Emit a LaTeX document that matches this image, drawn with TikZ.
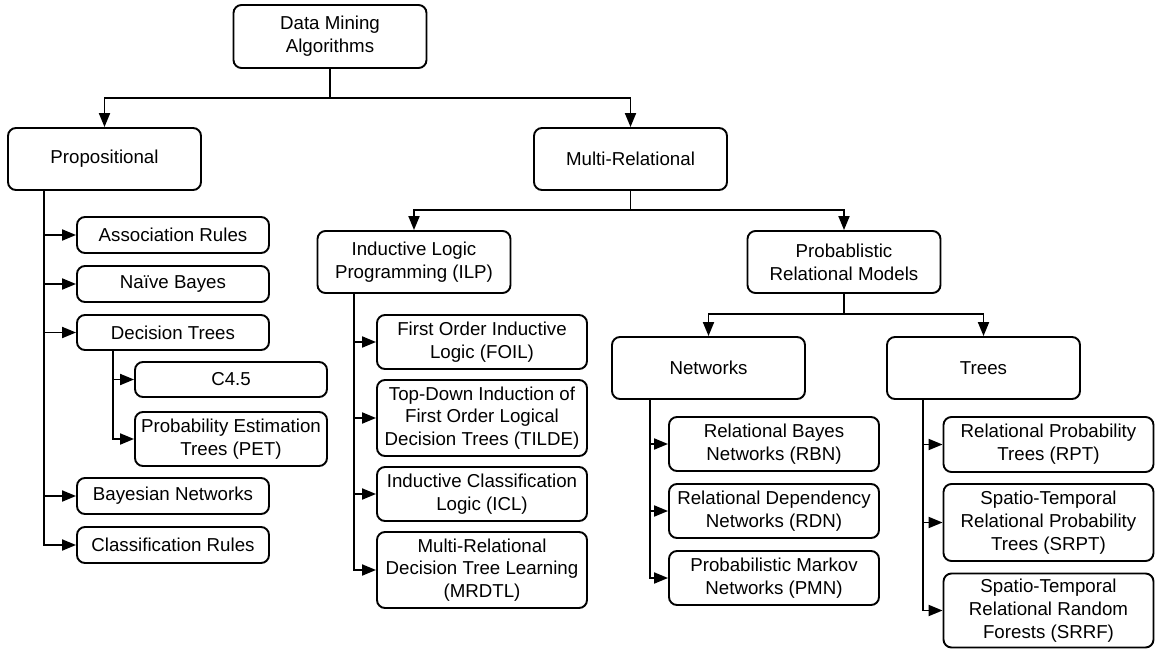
\documentclass[tikz,border=0pt]{standalone}
\usepackage{fontspec}
\setmainfont{Liberation Sans}
\usetikzlibrary{positioning, arrows.meta}

\begin{document}
\begin{tikzpicture}[x=1pt, y=-1pt, % 1 unit = 1 pixel of the page, y runs down
  box/.style={draw, line width=1.9pt, rounded corners=8pt, align=center, inner sep=0pt,
    font=\fontsize{18.7}{22.7}\selectfont},
  head/.style={box, minimum width=193pt, minimum height=62pt},
  leaf/.style={box, minimum width=192pt},
  wide/.style={box, minimum width=210pt},
  link/.style={line width=1.9pt},
  arr/.style={link, -{Triangle[length=14pt, width=11pt]}}]

\useasboundingbox (0,0) rectangle (1155,650);

\node[head, minimum height=63pt] (root) at (330,36.5) {Data Mining\\Algorithms};
\node[head] (prop) at (104.5,159) {Propositional};
\node[head] (multi) at (630.5,159) {Multi-Relational};

\node[leaf, minimum height=36pt] (assoc) at (173,235) {Association Rules};
\node[leaf, minimum height=36pt] (naive) at (173,284) {Naïve Bayes};
\node[leaf, minimum height=35pt] (dtree) at (173,332.5) {Decision Trees};
\node[leaf, minimum height=35pt] (c45) at (231,379.5) {C4.5};
\node[leaf, minimum height=54pt] (pet) at (231,439) {Probability Estimation\\Trees (PET)};
\node[leaf, minimum height=36pt] (bayes) at (173,496) {Bayesian Networks};
\node[leaf, minimum height=36pt] (crules) at (173,545) {Classification Rules};

\node[head] (ilp) at (414,262) {Inductive Logic\\Programming (ILP)};
\node[wide, minimum height=54pt] (foil) at (482,342) {First Order Inductive\\Logic (FOIL)};
\node[wide, minimum height=76pt] (tilde) at (482,418) {Top-Down Induction of\\First Order Logical\\Decision Trees (TILDE)};
\node[wide, minimum height=54pt] (icl) at (482,494) {Inductive Classification\\Logic (ICL)};
\node[wide, minimum height=76pt] (mrdtl) at (482,570) {Multi-Relational\\Decision Tree Learning\\(MRDTL)};

\node[head] (prm) at (844,262) {Probablistic\\Relational Models};
\node[head] (netw) at (708.5,368) {Networks};
\node[head] (trees) at (983.5,368) {Trees};

\node[wide, minimum height=54pt] (rbn) at (774,444) {Relational Bayes\\Networks (RBN)};
\node[wide, minimum height=54pt] (rdn) at (774,511) {Relational Dependency\\Networks (RDN)};
\node[wide, minimum height=54pt] (pmn) at (774,578) {Probabilistic Markov\\Networks (PMN)};

\node[wide, minimum height=55pt] (rpt) at (1048.5,444.5) {Relational Probability\\Trees (RPT)};
\node[wide, minimum height=77pt] (srpt) at (1048.5,522.5) {Spatio-Temporal\\Relational Probability\\Trees (SRPT)};
\node[wide, minimum height=74pt] (srrf) at (1048.5,610.5) {Spatio-Temporal\\Relational Random\\Forests (SRRF)};

% forks
\coordinate (rootfork) at (330,98);
\coordinate (multifork) at (630.5,210);
\coordinate (prmfork) at (844,314);
\coordinate (propv) at (44,190);
\coordinate (dtreev) at (113,350);
\coordinate (ilpv) at (354,293);
\coordinate (netwv) at (650,399);
\coordinate (treesv) at (923,399);

\draw[link] (root.south) -- (rootfork);
\draw[arr] (rootfork) -| (prop.north);
\draw[arr] (rootfork) -| (multi.north);
\draw[link] (multi.south) -- (multifork);
\draw[arr] (multifork) -| (ilp.north);
\draw[arr] (multifork) -| (prm.north);
\draw[link] (prm.south) -- (prmfork);
\draw[arr] (prmfork) -| (netw.north);
\draw[arr] (prmfork) -| (trees.north);

\foreach \n in {assoc, naive, dtree, bayes, crules}
  \draw[arr] (propv) |- (\n.west);
\foreach \n in {c45, pet}
  \draw[arr] (dtreev) |- (\n.west);
\foreach \n in {foil, tilde, icl, mrdtl}
  \draw[arr] (ilpv) |- (\n.west);
\foreach \n in {rbn, rdn, pmn}
  \draw[arr] (netwv) |- (\n.west);
\foreach \n in {rpt, srpt, srrf}
  \draw[arr] (treesv) |- (\n.west);

\end{tikzpicture}
\end{document}
